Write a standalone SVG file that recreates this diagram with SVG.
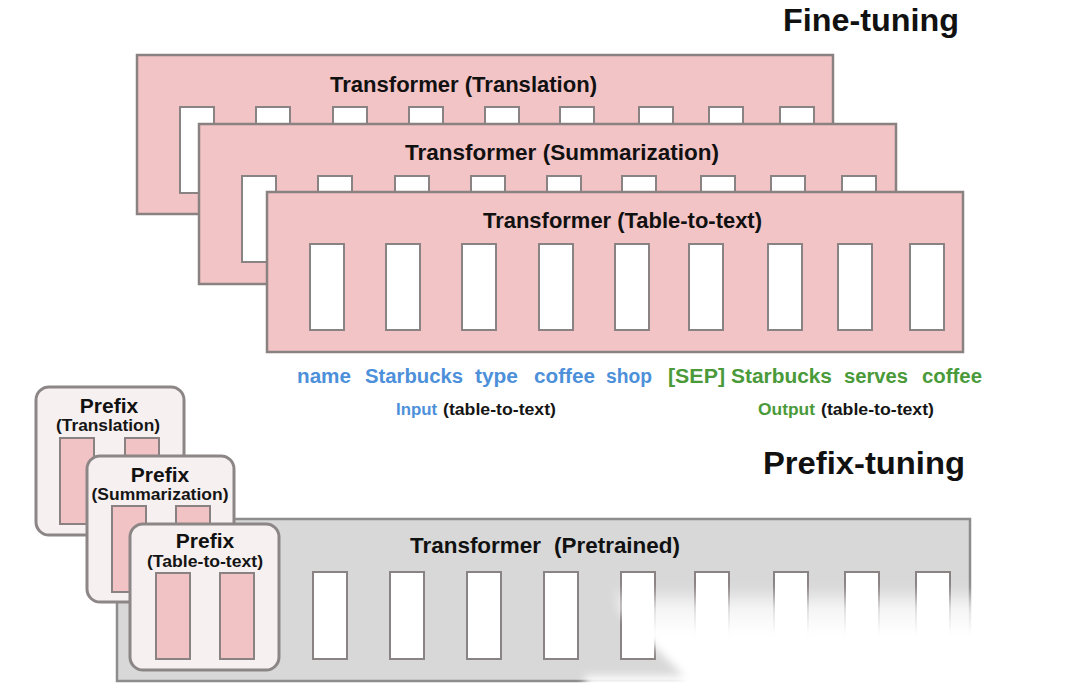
<svg xmlns="http://www.w3.org/2000/svg" width="1080" height="695" viewBox="0 0 1080 695">
  <defs>
    <style>
      text { font-family: "Liberation Sans", Arial, Helvetica, sans-serif; font-weight: bold; }
      .ft-box { fill: #f3c4c6; stroke: #8a8181; stroke-width: 2.5; }
      .slot { fill: #ffffff; stroke: #8a8383; stroke-width: 2; }
      .pt-box { fill: #d8d8d8; stroke: #8d8d8d; stroke-width: 2.5; }
      .px-box { fill: #f7f0f0; stroke: #8c8686; stroke-width: 3; }
      .px-slot { fill: #f2c3c5; stroke: #8a8282; stroke-width: 2; }
      .title { font-size: 22px; fill: #111111; }
      .big { font-size: 31px; fill: #111111; }
      .word { font-size: 20px; }
      .cap { font-size: 16px; fill: #151515; }
      .blue { fill: #4d90da; }
      .green { fill: #4a9a3a; }
      .px-t { font-size: 21px; fill: #111111; text-anchor: middle; }
      .px-s { font-size: 17px; fill: #151515; text-anchor: middle; }
    </style>
    <linearGradient id="wmGrad" gradientUnits="userSpaceOnUse" x1="0" y1="586" x2="0" y2="650">
      <stop offset="0" stop-color="#ffffff" stop-opacity="0"/>
      <stop offset="0.35" stop-color="#ffffff" stop-opacity="0.75"/>
      <stop offset="0.75" stop-color="#ffffff" stop-opacity="1"/>
    </linearGradient>
    <filter id="soft" x="-5%" y="-20%" width="110%" height="140%">
      <feGaussianBlur stdDeviation="4"/>
    </filter>
  </defs>

  <rect x="0" y="0" width="1080" height="695" fill="#ffffff"/>

  <!-- Titles -->
  <text id="label-fine-tuning" class="big" x="783" y="31" textLength="176" lengthAdjust="spacingAndGlyphs">Fine-tuning</text>
  <text id="label-prefix-tuning" class="big" x="763" y="474" textLength="202" lengthAdjust="spacingAndGlyphs">Prefix-tuning</text>

  <!-- Fine-tuned transformer: Translation -->
  <g id="ft-translation">
    <rect class="ft-box" x="137" y="55" width="696" height="159"/>
    <text class="title" x="330" y="92" textLength="267" lengthAdjust="spacingAndGlyphs">Transformer (Translation)</text>
    <rect class="slot" x="180" y="107" width="34" height="86"/>
    <rect class="slot" x="256" y="107" width="34" height="86"/>
    <rect class="slot" x="333" y="107" width="34" height="86"/>
    <rect class="slot" x="409" y="107" width="34" height="86"/>
    <rect class="slot" x="485" y="107" width="34" height="86"/>
    <rect class="slot" x="560" y="107" width="34" height="86"/>
    <rect class="slot" x="639" y="107" width="34" height="86"/>
    <rect class="slot" x="709" y="107" width="34" height="86"/>
    <rect class="slot" x="780" y="107" width="34" height="86"/>
  </g>

  <!-- Fine-tuned transformer: Summarization -->
  <g id="ft-summarization">
    <rect class="ft-box" x="199" y="124" width="697" height="160"/>
    <text class="title" x="405" y="160" textLength="314" lengthAdjust="spacingAndGlyphs">Transformer (Summarization)</text>
    <rect class="slot" x="242" y="176" width="34" height="86"/>
    <rect class="slot" x="318" y="176" width="34" height="86"/>
    <rect class="slot" x="395" y="176" width="34" height="86"/>
    <rect class="slot" x="471" y="176" width="34" height="86"/>
    <rect class="slot" x="547" y="176" width="34" height="86"/>
    <rect class="slot" x="622" y="176" width="34" height="86"/>
    <rect class="slot" x="701" y="176" width="34" height="86"/>
    <rect class="slot" x="771" y="176" width="34" height="86"/>
    <rect class="slot" x="842" y="176" width="34" height="86"/>
  </g>

  <!-- Fine-tuned transformer: Table-to-text -->
  <g id="ft-table-to-text">
    <rect class="ft-box" x="267" y="192" width="696" height="160"/>
    <text class="title" x="483" y="228" textLength="279" lengthAdjust="spacingAndGlyphs">Transformer (Table-to-text)</text>
    <rect class="slot" x="310" y="244" width="34" height="86"/>
    <rect class="slot" x="386" y="244" width="34" height="86"/>
    <rect class="slot" x="462" y="244" width="34" height="86"/>
    <rect class="slot" x="539" y="244" width="34" height="86"/>
    <rect class="slot" x="615" y="244" width="34" height="86"/>
    <rect class="slot" x="689" y="244" width="34" height="86"/>
    <rect class="slot" x="768" y="244" width="34" height="86"/>
    <rect class="slot" x="838" y="244" width="34" height="86"/>
    <rect class="slot" x="910" y="244" width="34" height="86"/>
  </g>

  <!-- Token sequence -->
  <g id="tokens">
    <text class="word blue" x="297" y="383" textLength="54" lengthAdjust="spacingAndGlyphs">name</text>
    <text class="word blue" x="365" y="383" textLength="98" lengthAdjust="spacingAndGlyphs">Starbucks</text>
    <text class="word blue" x="475" y="383" textLength="43" lengthAdjust="spacingAndGlyphs">type</text>
    <text class="word blue" x="534" y="383" textLength="61" lengthAdjust="spacingAndGlyphs">coffee</text>
    <text class="word blue" x="606" y="383" textLength="46" lengthAdjust="spacingAndGlyphs">shop</text>
    <text class="word green" x="668" y="383" textLength="57" lengthAdjust="spacingAndGlyphs">[SEP]</text>
    <text class="word green" x="731" y="383" textLength="101" lengthAdjust="spacingAndGlyphs">Starbucks</text>
    <text class="word green" x="844" y="383" textLength="64" lengthAdjust="spacingAndGlyphs">serves</text>
    <text class="word green" x="922" y="383" textLength="60" lengthAdjust="spacingAndGlyphs">coffee</text>
  </g>
  <g id="input-caption">
    <text class="cap blue" x="396" y="415" textLength="41" lengthAdjust="spacingAndGlyphs">Input</text>
    <text class="cap" x="443" y="415" textLength="113" lengthAdjust="spacingAndGlyphs">(table-to-text)</text>
  </g>
  <g id="output-caption">
    <text class="cap green" x="758" y="415" textLength="57" lengthAdjust="spacingAndGlyphs">Output</text>
    <text class="cap" x="821" y="415" textLength="113" lengthAdjust="spacingAndGlyphs">(table-to-text)</text>
  </g>

  <!-- Pretrained transformer -->
  <g id="pretrained">
    <rect class="pt-box" x="117" y="519" width="853" height="162"/>
    <text class="title" x="410" y="553" textLength="131" lengthAdjust="spacingAndGlyphs">Transformer</text>
    <text class="title" x="554" y="553" textLength="126" lengthAdjust="spacingAndGlyphs">(Pretrained)</text>
    <rect class="slot" x="313" y="572" width="34" height="87"/>
    <rect class="slot" x="390" y="572" width="34" height="87"/>
    <rect class="slot" x="467" y="572" width="34" height="87"/>
    <rect class="slot" x="544" y="572" width="34" height="87"/>
    <rect class="slot" x="621" y="572" width="34" height="87"/>
    <rect class="slot" x="695" y="572" width="34" height="87"/>
    <rect class="slot" x="774" y="572" width="34" height="87"/>
    <rect class="slot" x="845" y="572" width="34" height="87"/>
    <rect class="slot" x="916" y="572" width="34" height="87"/>
  </g>

  <!-- Prefix: Translation -->
  <g id="prefix-translation">
    <rect class="px-box" x="36" y="387" width="148" height="148" rx="13"/>
    <rect class="px-slot" x="60" y="438" width="34" height="86"/>
    <rect class="px-slot" x="125" y="438" width="34" height="86"/>
    <text class="px-t" x="109" y="413">Prefix</text>
    <text class="px-s" x="108" y="431" textLength="104" lengthAdjust="spacingAndGlyphs">(Translation)</text>
  </g>

  <!-- Prefix: Summarization -->
  <g id="prefix-summarization">
    <rect class="px-box" x="87" y="456" width="147" height="146" rx="13"/>
    <rect class="px-slot" x="112" y="506" width="34" height="86"/>
    <rect class="px-slot" x="176" y="506" width="34" height="86"/>
    <text class="px-t" x="160" y="482">Prefix</text>
    <text class="px-s" x="160" y="500" textLength="137" lengthAdjust="spacingAndGlyphs">(Summarization)</text>
  </g>

  <!-- Prefix: Table-to-text -->
  <g id="prefix-table-to-text">
    <rect class="px-box" x="130" y="524" width="149" height="146" rx="13"/>
    <rect class="px-slot" x="156" y="573" width="34" height="86"/>
    <rect class="px-slot" x="220" y="573" width="34" height="86"/>
    <text class="px-t" x="205" y="548">Prefix</text>
    <text class="px-s" x="205" y="567" textLength="116" lengthAdjust="spacingAndGlyphs">(Table-to-text)</text>
  </g>

  <g id="connectors"/>

  <!-- white fade seen over the bottom-right corner of the picture -->
  <polygon points="612,584 1080,584 1080,700 585,700 585,676 684,676 620,612" fill="url(#wmGrad)" filter="url(#soft)"/>
</svg>
